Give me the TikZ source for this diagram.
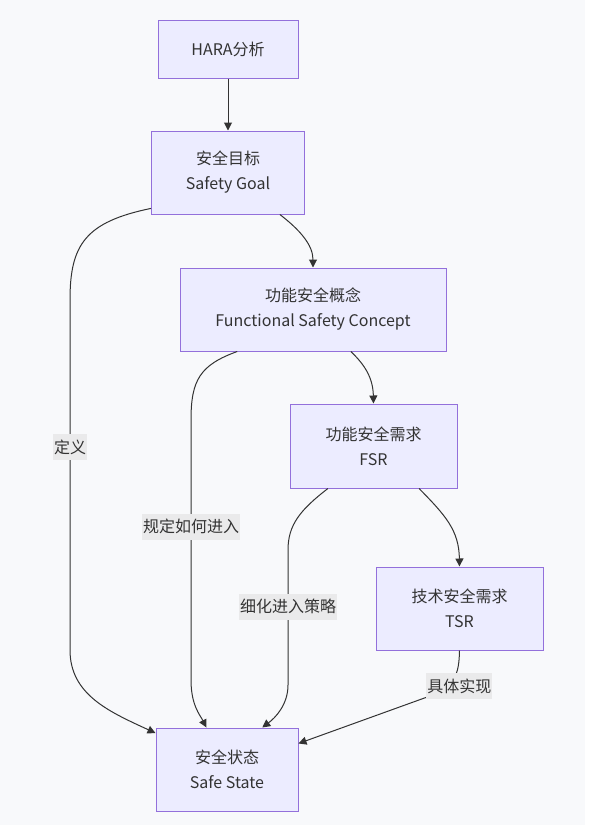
\documentclass[tikz,border=0pt]{standalone}
\usepackage{fontspec}
\newfontfamily\cjk{Noto Sans CJK SC}
\usetikzlibrary{arrows.meta}
\definecolor{boxfill}{HTML}{ECECFF}
\definecolor{boxline}{HTML}{9370DB}
\definecolor{edge}{HTML}{333333}
\definecolor{lblfill}{HTML}{EAEAEB}
\definecolor{canvas}{HTML}{F8F9FB}
\begin{document}
\begin{tikzpicture}
    [x=1pt, y=-1pt,
    box/.style={rectangle, draw=boxline, fill=boxfill, line width=1pt, align=center,
        text=edge, font=\cjk\fontsize{16}{25}\selectfont, inner sep=0pt},
    lbl/.style={rectangle, fill=lblfill, text=edge, inner xsep=1pt, inner ysep=0pt,
        minimum height=26pt, font=\cjk\fontsize{16}{25}\selectfont},
    flow/.style={draw=edge, line width=1pt, -{Triangle[length=8pt,width=8pt]}}]
    \useasboundingbox (0,0) rectangle (589,825);
    \fill[white] (0,0) rectangle (589,825);
    \fill[canvas] (0,0) rectangle (585,825);

    \node[box, minimum width=140pt, minimum height=58pt] (hara) at (228,49) {HARA分析};
    \node[box, minimum width=153pt, minimum height=83pt] (goal) at (228,172.5) {安全目标\\Safety Goal};
    \node[box, minimum width=266pt, minimum height=83pt] (fsc) at (313,309.5) {功能安全概念\\Functional Safety Concept};
    \node[box, minimum width=167pt, minimum height=84pt] (fsr) at (373.5,446) {功能安全需求\\FSR};
    \node[box, minimum width=167pt, minimum height=83pt] (tsr) at (459.5,608.5) {技术安全需求\\TSR};
    \node[box, minimum width=142pt, minimum height=83pt] (safe) at (227,769.5) {安全状态\\Safe State};

    \draw[flow] (hara) -- (goal);
    \draw[flow] (goal.-39) .. controls (300,230) and (313,245) .. (fsc.north);
    \draw[flow] (goal.205) .. controls (85,222) and (70,245) .. (70,300)
        -- node[lbl, pos=0.42] {定义} (70,650)
        .. controls (70,695) and (110,712) .. (safe.153);
    \draw[flow] (fsc.209) .. controls (200,365) and (191,380) .. (191,420)
        -- node[lbl, pos=0.41] {规定如何进入} (191,680)
        .. controls (191,705) and (200,715) .. (safe.116);
    \draw[flow] (fsc.-48) .. controls (365,365) and (373,378) .. (fsr.north);
    \draw[flow] (fsr.223) .. controls (300,510) and (288,525) .. (288,550)
        -- node[lbl, pos=0.42] {细化进入策略} (288,685)
        .. controls (288,705) and (275,718) .. (safe.50);
    \draw[flow] (fsr.-43) .. controls (445,515) and (459,530) .. (tsr.north);
    \draw[flow] (tsr.south) .. controls (459,675) and (455,685) .. node[lbl, pos=0.7, xshift=12pt] {具体实现} (430,696)
        -- (safe.20);

  \end{tikzpicture}
\end{document}
